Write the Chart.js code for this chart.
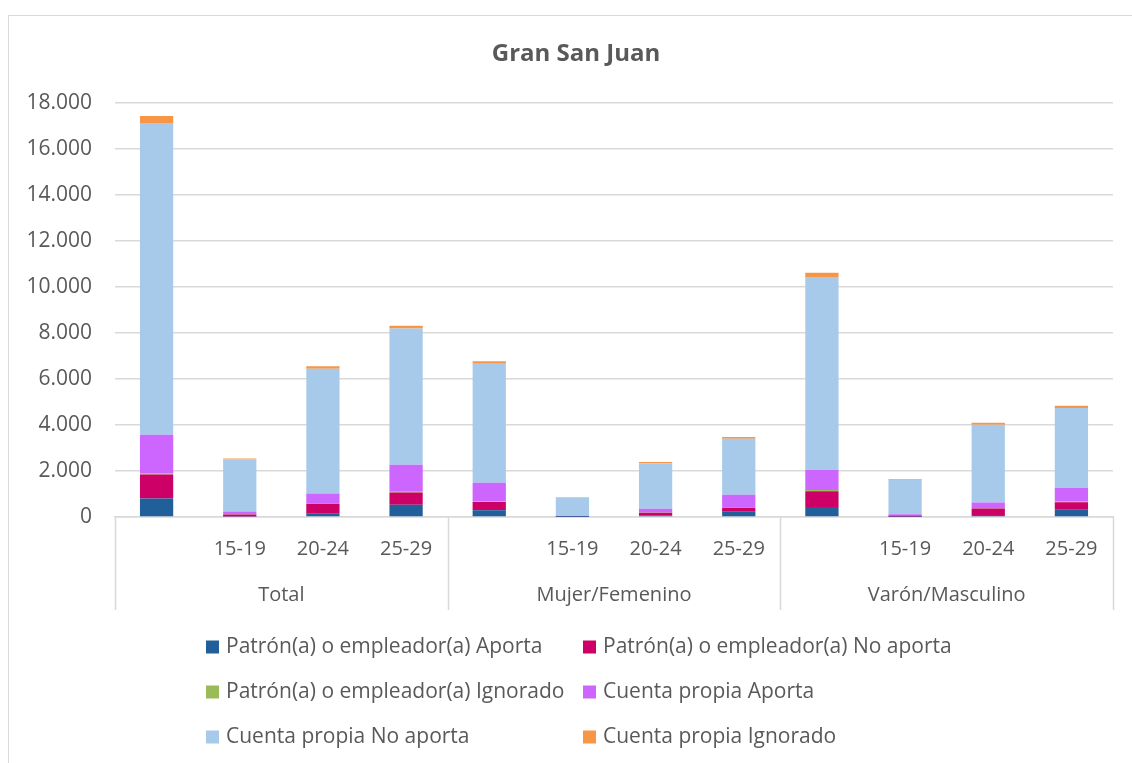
<!DOCTYPE html>
<html>
<head>
<meta charset="utf-8">
<script src="https://cdn.jsdelivr.net/npm/chart.js@4.4.1/dist/chart.umd.min.js"></script>
<style>
    html, body { margin: 0; padding: 0; background: #fff; overflow: hidden; }
    #frame { position: absolute; left: 8px; top: 15px; width: 1130px; height: 760px; border: 1.5px solid #d9d9d9; box-sizing: border-box; }
    #wrap { position: absolute; left: 0; top: 0; width: 1132px; height: 763px; }
</style>
</head>
<body>
<div id="frame"></div>
<div id="wrap"><canvas id="chart"></canvas></div>
<script>
// Categories: age bands inside each group
const ageLabels = ['', '15-19', '20-24', '25-29', '', '15-19', '20-24', '25-29', '', '15-19', '20-24', '25-29'];
const groupLabels = ['Total', 'Mujer/Femenino', 'Varón/Masculino'];
const chartTitle = 'Gran San Juan';

// Series values (people), same order as ageLabels
const patronAporta    = [800, 20, 145, 535, 290, 5, 50, 225, 435, 10, 85, 320];
const patronNoAporta  = [1050, 90, 435, 525, 360, 15, 140, 175, 680, 60, 290, 320];
const patronIgnorado  = [50, 5, 10, 40, 20, 0, 5, 30, 60, 0, 10, 30];
const propiaAporta    = [1680, 120, 430, 1175, 820, 30, 160, 540, 870, 45, 245, 605];
const propiaNoAporta  = [13550, 2280, 5430, 5925, 5175, 790, 1985, 2435, 8390, 1510, 3380, 3465];
const propiaIgnorado  = [300, 30, 100, 120, 105, 15, 55, 75, 185, 25, 85, 100];

const yTicks = [0, 2000, 4000, 6000, 8000, 10000, 12000, 14000, 16000, 18000];

const FONT = '"Open Sans", sans-serif';
const TEXT = '#595959';
const LINE = '#d9d9d9';

const series = [
    { label: 'Patrón(a) o empleador(a) Aporta', data: patronAporta, color: '#215F9A' },
    { label: 'Patrón(a) o empleador(a) No aporta', data: patronNoAporta, color: '#CC0066' },
    { label: 'Patrón(a) o empleador(a) Ignorado', data: patronIgnorado, color: '#9BBB59' },
    { label: 'Cuenta propia Aporta', data: propiaAporta, color: '#CC66FF' },
    { label: 'Cuenta propia No aporta', data: propiaNoAporta, color: '#A7CAEB' },
    { label: 'Cuenta propia Ignorado', data: propiaIgnorado, color: '#F79646' }
];

const fmt = v => String(v).replace(/\B(?=(\d{3})+(?!\d))/g, '.');

// Title centred on the frame, two-level category axis and separators
const groupedAxis = {
    id: 'groupedAxis',
    afterDraw(chart) {
        const { ctx, chartArea, scales } = chart;
        const x = scales.x;
        const step = (chartArea.right - chartArea.left) / ageLabels.length;
        ctx.save();
        ctx.fillStyle = TEXT;
        ctx.textAlign = 'center';
        ctx.textBaseline = 'middle';
        ctx.font = 'bold 24px ' + FONT;
        ctx.fillText(chartTitle, 576, 54);

        ctx.strokeStyle = LINE;
        ctx.lineWidth = 1.5;
        for (let g = 0; g <= groupLabels.length; g++) {
            const px = Math.round(chartArea.left + g * 4 * step) + 0.5;
            ctx.beginPath();
            ctx.moveTo(px, chartArea.bottom);
            ctx.lineTo(px, chartArea.bottom + 93);
            ctx.stroke();
        }
        ctx.font = '20px ' + FONT;
        ageLabels.forEach((lab, i) => {
            if (lab) ctx.fillText(lab, x.getPixelForValue(i), chartArea.bottom + 32);
        });
        groupLabels.forEach((lab, g) => {
            const cx = (x.getPixelForValue(g * 4) + x.getPixelForValue(g * 4 + 3)) / 2;
            ctx.fillText(lab, cx, chartArea.bottom + 78);
        });
        ctx.restore();
    }
};

// Legend laid out in two columns
const columnLegend = {
    id: 'columnLegend',
    afterDraw(chart) {
        const { ctx } = chart;
        const cols = [206, 583];
        const rows = [647, 692, 737];
        ctx.save();
        ctx.font = '21px ' + FONT;
        ctx.textBaseline = 'middle';
        ctx.textAlign = 'left';
        series.forEach((s, i) => {
            const cx = cols[i % 2];
            const cy = rows[Math.floor(i / 2)];
            ctx.fillStyle = s.color;
            ctx.fillRect(cx, cy - 6.5, 13, 13);
            ctx.fillStyle = TEXT;
            ctx.fillText(s.label, cx + 20, cy);
        });
        ctx.restore();
    }
};

new Chart(document.getElementById('chart'), {
    type: 'bar',
    data: {
        labels: ageLabels,
        datasets: series.map(s => ({
            label: s.label,
            data: s.data,
            backgroundColor: s.color,
            borderWidth: 0,
            barPercentage: 0.4,
            categoryPercentage: 1.0
        }))
    },
    options: {
        responsive: true,
        maintainAspectRatio: false,
        animation: false,
        layout: { padding: { left: 0, right: 19, top: 103, bottom: 0 } },
        plugins: {
            legend: { display: false },
            tooltip: { enabled: false },
            title: { display: false }
        },
        scales: {
            x: {
                stacked: true,
                afterFit: scale => { scale.height = 246; },
                ticks: { display: false },
                grid: { display: false },
                border: { display: true, color: LINE, width: 1.5 }
            },
            y: {
                stacked: true,
                min: 0,
                max: 18000,
                afterBuildTicks: scale => { scale.ticks = yTicks.map(v => ({ value: v })); },
                afterFit: scale => { scale.width = 115; },
                ticks: {
                    color: TEXT,
                    padding: 23,
                    font: { family: FONT, size: 21 },
                    callback: v => fmt(v)
                },
                grid: { color: LINE, lineWidth: 1.5, drawTicks: false },
                border: { display: false }
            }
        }
    },
    plugins: [groupedAxis, columnLegend]
});
</script>
</body>
</html>
